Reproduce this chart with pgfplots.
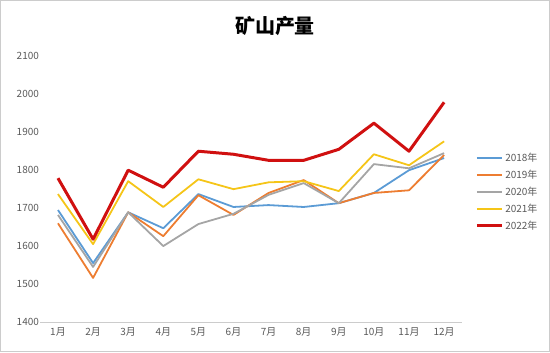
\documentclass[border=0pt]{standalone}
\usepackage{fontspec}
\usepackage{pgfplots}
\pgfplotsset{compat=1.18}
\setmainfont{Liberation Sans}
\newfontfamily\cjk{Noto Sans CJK SC}
\definecolor{c18}{HTML}{5B9BD5}
\definecolor{c19}{HTML}{ED7D31}
\definecolor{c20}{HTML}{A5A5A5}
\definecolor{c21}{HTML}{F5C518}
\definecolor{c22}{HTML}{D01010}
\definecolor{tickc}{HTML}{595959}
\begin{document}
\begin{tikzpicture}[x=1pt,y=1pt]
\draw[draw=black!20, line width=1pt] (0,0) rectangle (550,352);
\node[font={\cjk\bfseries\fontsize{20}{22}\selectfont}] at (275,326) {矿山产量};
\begin{axis}[
  at={(40pt,30pt)}, anchor=south west,
  scale only axis, width=422pt, height=266pt,
  xmin=0.5, xmax=12.5, ymin=1400, ymax=2100,
  xtick={1,...,12},
  xticklabels={1月,2月,3月,4月,5月,6月,7月,8月,9月,10月,11月,12月},
  ytick={1400,1500,...,2100},
  axis x line*=bottom, axis y line*=left,
  x axis line style={draw=black!20, line width=0.8pt, -},
  y axis line style={draw=none},
  tick style={draw=none},
  ticklabel style={font={\cjk\fontsize{10}{12}\selectfont\color{tickc}}},
  xticklabel style={yshift=-2pt},
  yticklabel style={xshift=2pt},
  /pgf/number format/assume math mode=true,
  /pgf/number format/1000 sep={},
  clip=false,
  legend style={at={(1.025,0.49)}, anchor=west, draw=none, fill=none,
    font={\cjk\fontsize{10}{12}\selectfont}, row sep=3pt},
  legend cell align=left,
  legend image code/.code={\draw[#1] (0pt,0pt) -- (25pt,0pt);},
  every axis plot/.append style={line join=round, mark=none},
]
\addplot[draw=c18, line width=1.8pt] coordinates {(1,1695)(2,1555)(3,1689)(4,1647)(5,1737)(6,1703)(7,1708)(8,1703)(9,1713)(10,1740)(11,1800)(12,1832)};
\addlegendentry{\color{tickc}2018年}
\addplot[draw=c19, line width=1.8pt] coordinates {(1,1660)(2,1516)(3,1689)(4,1626)(5,1734)(6,1682)(7,1740)(8,1774)(9,1713)(10,1740)(11,1747)(12,1840)};
\addlegendentry{\color{tickc}2019年}
\addplot[draw=c20, line width=1.8pt] coordinates {(1,1682)(2,1545)(3,1689)(4,1600)(5,1658)(6,1685)(7,1735)(8,1766)(9,1713)(10,1816)(11,1805)(12,1845)};
\addlegendentry{\color{tickc}2020年}
\addplot[draw=c21, line width=1.8pt] coordinates {(1,1737)(2,1605)(3,1771)(4,1703)(5,1776)(6,1750)(7,1768)(8,1771)(9,1745)(10,1842)(11,1813)(12,1876)};
\addlegendentry{\color{tickc}2021年}
\addplot[draw=c22, line width=3pt] coordinates {(1,1779)(2,1618)(3,1800)(4,1755)(5,1850)(6,1842)(7,1826)(8,1826)(9,1855)(10,1924)(11,1850)(12,1979)};
\addlegendentry{\color{tickc}2022年}
\end{axis}
\end{tikzpicture}
\end{document}
